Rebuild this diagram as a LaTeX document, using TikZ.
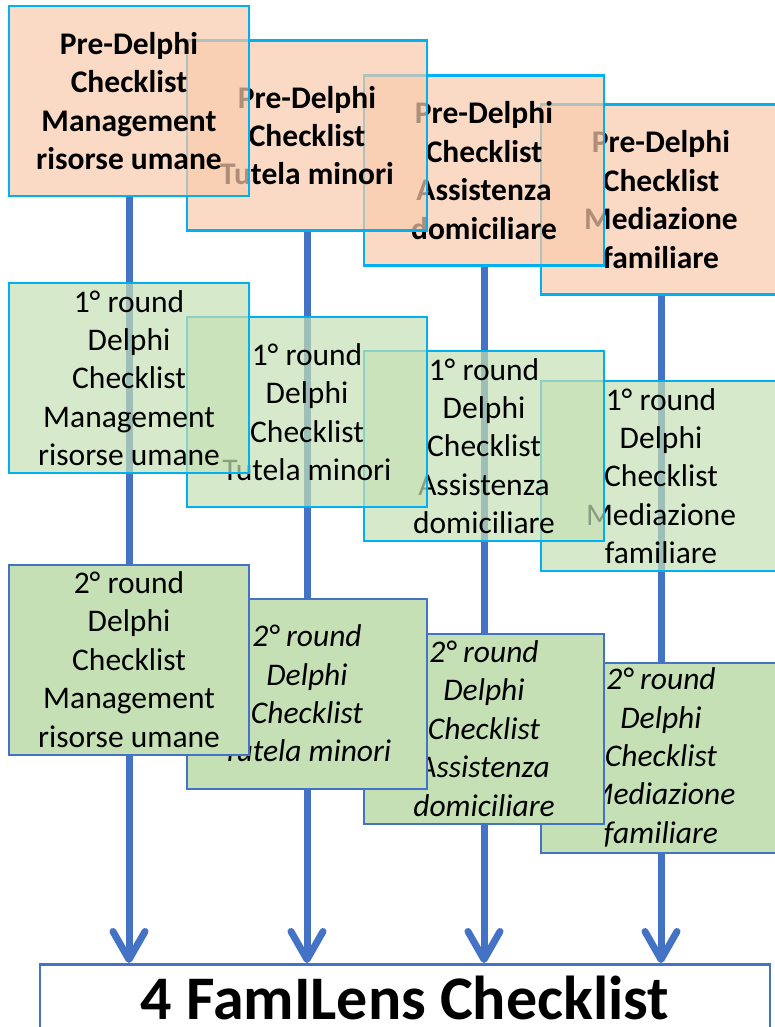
\documentclass[tikz,border=0pt]{standalone}
\usepackage{fontspec}
\setmainfont{Carlito}
\usetikzlibrary{arrows.meta,backgrounds}
\definecolor{cyanb}{HTML}{00B0F0}
\definecolor{peach}{HTML}{F8CBAD}
\definecolor{grn}{HTML}{C5E0B4}
\definecolor{blu}{HTML}{4472C4}
\newcommand{\boxfont}{\fontsize{31.5}{38.4}\selectfont}
\tikzset{
 cbox/.style={draw, rectangle, minimum width=240pt, minimum height=190pt, inner sep=0pt, align=center, font=\boxfont},
 prebox/.style={cbox, draw=cyanb, line width=2.5pt, fill=peach, fill opacity=0.7, text opacity=1, font=\boxfont\bfseries},
 ronebox/.style={cbox, draw=cyanb, line width=2.5pt, fill=grn, fill opacity=0.7, text opacity=1},
 rtwobox/.style={cbox, draw=blu, line width=2pt, fill=grn},
 itbox/.style={rtwobox, font=\boxfont\itshape},
 conn/.style={draw=blu, line width=7pt, -{Straight Barb[length=28pt,width=32pt,round]}},
 finbox/.style={draw=blu, line width=2.5pt, fill=white, minimum width=730pt, inner xsep=0pt, inner ysep=13pt, text height=42pt, text depth=20pt, font=\fontsize{62}{66}\selectfont\bfseries},
}
\begin{document}
\begin{tikzpicture}[x=1pt,y=-1pt]
\useasboundingbox (0,0) rectangle (775,1027);
\clip (0,0) rectangle (775,1027);
% row 1
\node[prebox] (p4) at (661,199.5) {Pre-Delphi\\Checklist\\Mediazione\\familiare};
\node[prebox] (p3) at (484,170.5) {Pre-Delphi\\Checklist\\Assistenza\\domiciliare};
\node[prebox] (p2) at (307,135.5) {Pre-Delphi\\Checklist\\Tutela minori};
\node[prebox] (p1) at (129,101) {Pre-Delphi\\Checklist\\Management\\risorse umane};
% row 2
\node[ronebox] (a4) at (661,476) {1° round\\Delphi\\Checklist\\Mediazione\\familiare};
\node[ronebox] (a3) at (484,446) {1° round\\Delphi\\Checklist\\Assistenza\\domiciliare};
\node[ronebox] (a2) at (307,412) {1° round\\Delphi\\Checklist\\Tutela minori};
\node[ronebox] (a1) at (129,378) {1° round\\Delphi\\Checklist\\Management\\risorse umane};
% row 3
\node[itbox] (b4) at (661,757.5) {2° round\\Delphi\\Checklist\\Mediazione\\familiare};
\node[itbox] (b3) at (484,728.5) {2° round\\Delphi\\Checklist\\Assistenza\\domiciliare};
\node[itbox] (b2) at (307,693.5) {2° round\\Delphi\\Checklist\\Tutela minori};
\node[rtwobox] (b1) at (129,659.5) {2° round\\Delphi\\Checklist\\Management\\risorse umane};
% final
\node[finbox, anchor=north] (fin) at (405,963) {4 FamILens Checklist};
\begin{scope}[on background layer]
\draw[conn] (p1.south) -- (p1.south |- fin.north);
\draw[conn] (p2.south) -- (p2.south |- fin.north);
\draw[conn] (p3.south) -- (p3.south |- fin.north);
\draw[conn] (p4.south) -- (p4.south |- fin.north);
\end{scope}
\end{tikzpicture}
\end{document}
